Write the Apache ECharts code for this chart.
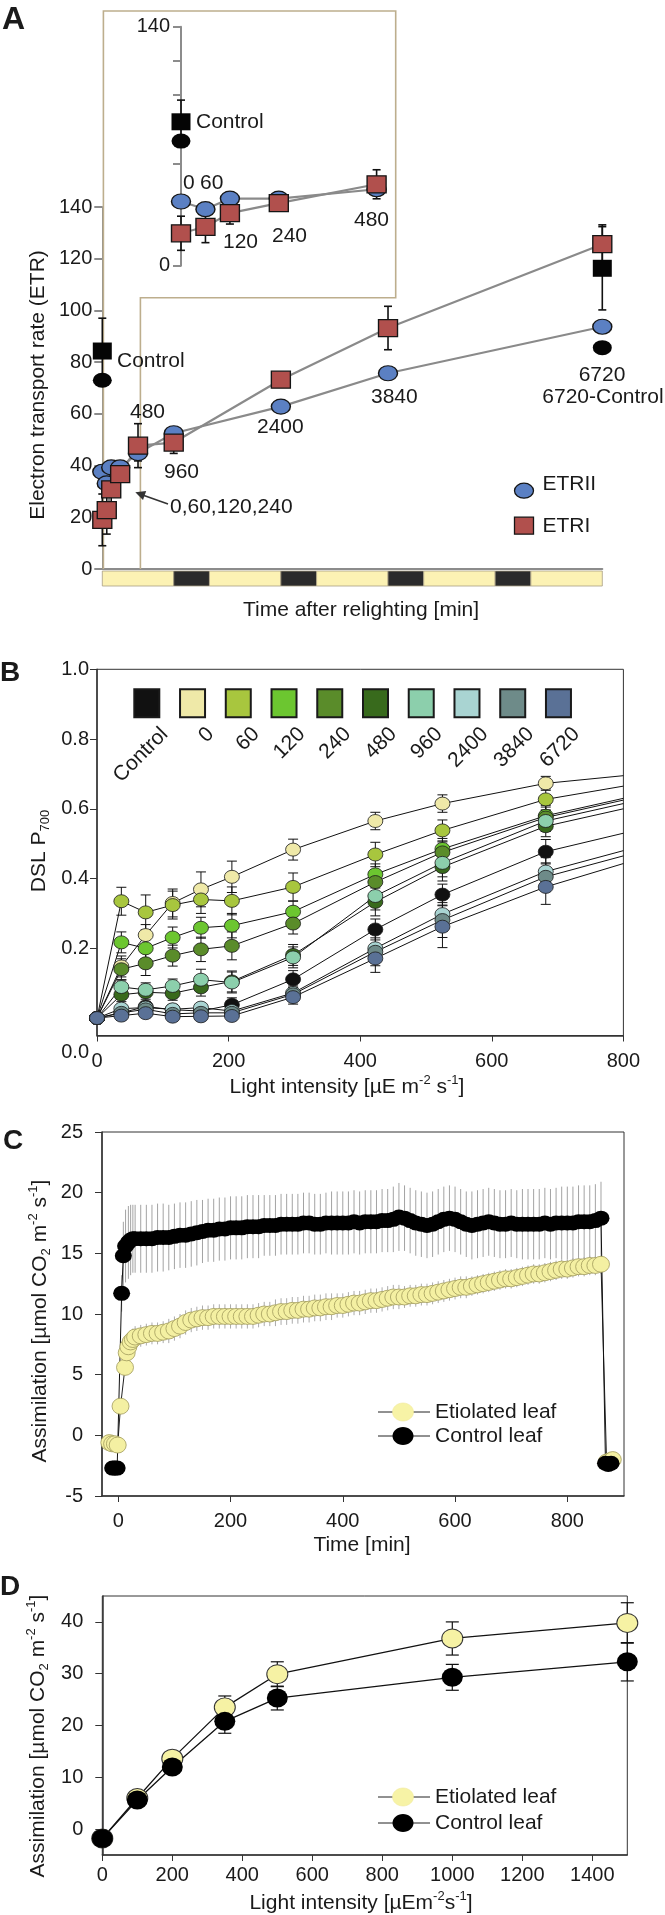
<!DOCTYPE html>
<html><head><meta charset="utf-8">
<script src="https://cdn.jsdelivr.net/npm/echarts@6/dist/echarts.min.js"></script>
<style>html,body{margin:0;padding:0;background:#fff}#c{width:665px;height:1915px}</style>
</head><body><div id="c"></div>
<script>
// ---------------- Panel A data ----------------
const aTimes = [0, 60, 120, 240, 480, 960, 2400, 3840, 6720];
const aETRII = [37.6, 33.1, 39.3, 39.3, 44.8, 52.5, 62.8, 75.7, 93.7];
const aETRIIErr = [1.5, 1.5, 1.5, 1.5, 3, 1.5, 1.5, 1.5, 1.5];
const aETRI = [19.0, 22.8, 30.8, 36.7, 47.7, 48.9, 73.2, 93.2, 125.6];
const aETRIErr = [10, 9.3, 6.4, 2, 8.5, 4.2, 2, 8.4, 7.5];
const aControlTimes = [0, 6720];
const aControlETRII = [73.0, 85.6];
const aControlETRI = [84.3, 116.3];
const aControlETRIErr = [12.7, 16.1];
const aInsetCount = 5; // points 0..480 min shown in the inset
const aPeriodStart = [0, 960, 1440, 2400, 2880, 3840, 4320, 5280, 5760];
const aPeriodEnd   = [960, 1440, 2400, 2880, 3840, 4320, 5280, 5760, 6720];
const aPeriodDark  = [0, 1, 0, 1, 0, 1, 0, 1, 0];

// ---------------- Panel B data ----------------
const bLight = [0, 37, 74, 115, 158, 205, 298, 423, 525, 682];
const bCurveEndX = 800;
const bGroups = ['Control', '0', '60', '120', '240', '480', '960', '2400', '3840', '6720'];
const bColors = ['#111111', '#efe9a8', '#a8c63e', '#6cc630', '#5a8c2a', '#386a1c', '#8ccfac', '#a9d4d2', '#6e8b89', '#5a7196'];
const bControl = [0.0, 0.015, 0.033, 0.024, 0.02, 0.038, 0.111, 0.254, 0.354, 0.477];
const bT0    = [0.0, 0.148, 0.238, 0.33, 0.369, 0.405, 0.483, 0.565, 0.615, 0.673];
const bT60   = [0.0, 0.335, 0.303, 0.324, 0.34, 0.336, 0.376, 0.469, 0.538, 0.627];
const bT120  = [0.0, 0.217, 0.2, 0.231, 0.259, 0.265, 0.305, 0.412, 0.485, 0.58];
const bT240  = [0.0, 0.14, 0.157, 0.179, 0.197, 0.207, 0.271, 0.39, 0.475, 0.575];
const bT480  = [0.0, 0.067, 0.074, 0.071, 0.088, 0.105, 0.181, 0.333, 0.433, 0.55];
const bT960  = [0.0, 0.089, 0.081, 0.092, 0.11, 0.102, 0.174, 0.35, 0.445, 0.565];
const bT2400 = [0.0, 0.027, 0.03, 0.025, 0.03, 0.02, 0.072, 0.2, 0.298, 0.42];
const bT3840 = [0.0, 0.015, 0.025, 0.012, 0.015, 0.015, 0.068, 0.19, 0.281, 0.405];
const bT6720 = [0.0, 0.007, 0.014, 0.004, 0.005, 0.006, 0.06, 0.171, 0.262, 0.376];
const bCurveEnd = [0.53, 0.695, 0.665, 0.63, 0.625, 0.60, 0.615, 0.48, 0.465, 0.443];
const bErrControl = [0, 0.01, 0.015, 0.015, 0.01, 0.02, 0.025, 0.03, 0.03, 0.035];
const bErrT0    = [0, 0.03, 0.03, 0.04, 0.05, 0.045, 0.03, 0.025, 0.025, 0.02];
const bErrT60   = [0, 0.04, 0.05, 0.04, 0.04, 0.04, 0.04, 0.035, 0.03, 0.03];
const bErrT120  = [0, 0.03, 0.03, 0.03, 0.03, 0.035, 0.03, 0.03, 0.03, 0.03];
const bErrT240  = [0, 0.03, 0.035, 0.03, 0.035, 0.04, 0.03, 0.03, 0.03, 0.03];
const bErrT480  = [0, 0.02, 0.02, 0.02, 0.025, 0.03, 0.03, 0.04, 0.04, 0.03];
const bErrT960  = [0, 0.02, 0.02, 0.02, 0.03, 0.03, 0.03, 0.04, 0.04, 0.03];
const bErrT2400 = [0, 0.01, 0.01, 0.01, 0.01, 0.01, 0.02, 0.04, 0.05, 0.04];
const bErrT3840 = [0, 0.01, 0.01, 0.01, 0.01, 0.01, 0.02, 0.04, 0.05, 0.04];
const bErrT6720 = [0, 0.01, 0.01, 0.01, 0.01, 0.01, 0.02, 0.04, 0.06, 0.05];

// ---------------- Panel C data ----------------
const cTimes = [30,40,50,60,70,80,90,100,110,120,
  130,140,150,160,170,180,190,200,210,220,
  230,240,250,260,270,280,290,300,310,320,
  330,340,350,360,370,380,390,400,410,420,
  430,440,450,460,470,480,490,500,510,520,
  530,540,550,560,570,580,590,600,610,620,
  630,640,650,660,670,680,690,700,710,720,
  730,740,750,760,770,780,790,800,810,820,
  830,840,850,860];
const cControl = [16.2,16.2,16.2,16.2,16.3,16.3,16.3,16.4,16.5,16.5,
  16.6,16.7,16.8,16.9,16.9,17.0,17.0,17.1,17.1,17.1,
  17.2,17.2,17.2,17.3,17.3,17.3,17.4,17.4,17.4,17.4,
  17.5,17.5,17.4,17.4,17.5,17.5,17.5,17.5,17.5,17.6,
  17.5,17.6,17.6,17.6,17.7,17.7,17.8,18.0,17.9,17.7,
  17.5,17.4,17.3,17.4,17.6,17.8,17.9,17.8,17.6,17.4,
  17.3,17.4,17.5,17.6,17.5,17.4,17.4,17.5,17.4,17.4,
  17.4,17.4,17.4,17.5,17.4,17.5,17.5,17.5,17.5,17.6,
  17.6,17.6,17.7,17.9];
const cControlErr = [2.8,2.8,2.8,2.8,2.8,2.8,2.7,2.7,2.7,2.7,
  2.7,2.7,2.6,2.6,2.6,2.6,2.6,2.6,2.6,2.6,
  2.6,2.6,2.6,2.5,2.5,2.5,2.5,2.5,2.5,2.5,
  2.5,2.5,2.5,2.5,2.5,2.6,2.6,2.6,2.6,2.6,
  2.6,2.6,2.6,2.6,2.6,2.6,2.7,2.8,2.7,2.7,
  2.7,2.7,2.7,2.7,2.7,2.7,2.7,2.7,2.7,2.7,
  2.8,2.8,2.8,2.8,2.8,2.8,2.8,2.8,2.8,2.9,
  2.9,2.9,2.9,2.9,2.9,2.9,3.0,3.0,3.0,3.0,
  3.0,3.0,3.0,3.0];
const cEtio = [8.1,8.2,8.3,8.4,8.4,8.5,8.6,8.8,9.0,9.3,
  9.5,9.6,9.7,9.7,9.8,9.8,9.8,9.8,9.8,9.8,
  9.8,9.8,9.9,10.0,10.0,10.1,10.2,10.2,10.3,10.3,
  10.4,10.4,10.5,10.5,10.6,10.6,10.7,10.7,10.8,10.9,
  10.9,11.0,11.1,11.1,11.2,11.3,11.4,11.4,11.4,11.5,
  11.5,11.6,11.6,11.7,11.8,11.9,12.0,12.1,12.2,12.2,
  12.3,12.4,12.5,12.6,12.7,12.8,12.9,12.9,13.0,13.1,
  13.2,13.3,13.3,13.4,13.5,13.6,13.7,13.7,13.8,13.9,
  13.9,14.0,14.0,14.1];
const cEtioErr = [0.9,0.9,0.9,0.9,0.9,0.9,1.0,1.0,1.0,1.0,
  1.0,1.0,1.0,1.0,1.0,1.0,1.0,1.0,1.0,1.0,
  1.0,1.0,1.0,1.0,1.0,1.1,1.1,1.1,1.1,1.1,
  1.1,1.1,1.1,1.1,1.1,1.1,1.0,1.0,1.0,1.0,
  1.0,1.0,1.0,1.0,1.0,1.0,1.0,1.0,0.9,0.9,
  0.9,0.9,0.9,0.9,0.9,0.9,0.9,0.9,0.9,0.9,
  0.8,0.8,0.8,0.8,0.8,0.8,0.8,0.8,0.8,0.8,
  0.8,0.8,0.8,0.8,0.8,0.8,0.8,0.8,0.8,0.8,
  0.8,0.8,0.8,0.8];
// [time, value, error] around the light-on / light-off transitions
const cControlPre  = [[-10,-2.7,0.3],[-6,-2.7,0.3],[-2,-2.7,0.3],[6,11.7,1.5],[9,14.8,2.8],[13,15.6,3.0],[18,15.9,3.0],[22,16.1,2.9],[26,16.2,2.8]];
const cControlPost = [[868,-2.3,0.4],[873,-2.4,0.4],[878,-2.3,0.4]];
const cEtioPre  = [[-16,-0.6,0.3],[-11,-0.7,0.3],[-6,-0.7,0.3],[-1,-0.8,0.3],[4,2.4,0.5],[12,5.6,0.6],[15,6.8,0.7],[18,7.3,0.8],[22,7.7,0.8],[26,7.9,0.9]];
const cEtioPost = [[870,-2.2,0.3],[876,-2.1,0.3],[881,-2.0,0.3]];

// ---------------- Panel D data ----------------
const dLight = [0, 100, 200, 350, 500, 1000, 1500];
const dEtio = [-1.8, 6.0, 13.6, 23.5, 29.9, 36.8, 39.8];
const dEtioErr = [0.5, 0.8, 1.2, 2.2, 2.4, 3.2, 3.9];
const dControl = [-1.8, 5.6, 12.0, 20.8, 25.3, 29.3, 32.3];
const dControlErr = [0.5, 0.8, 1.2, 2.3, 2.3, 2.5, 3.7];

// ---------------- helpers ----------------
const FONT = "'Liberation Sans', Arial, Helvetica, sans-serif";
const TXT = '#1a1a1a';
const pairs = (xs, ys) => xs.map((x, i) => [x, ys[i]]);
const triples = (xs, ys, es) => xs.map((x, i) => [x, ys[i], es[i]]);

function errSeries(idx, data, cap, color, width) {
  return {
    type: 'custom', xAxisIndex: idx, yAxisIndex: idx, data: data, clip: false, silent: true,
    encode: { x: 0, y: 1 },
    renderItem: function (params, api) {
      const x = api.value(0), y = api.value(1), e = api.value(2);
      const t = api.coord([x, y + e]), b = api.coord([x, y - e]);
      const st = { stroke: color, lineWidth: width };
      const ch = [{ type: 'line', shape: { x1: t[0], y1: t[1], x2: b[0], y2: b[1] }, style: st }];
      if (cap) {
        const h = cap / 2;
        ch.push({ type: 'line', shape: { x1: t[0] - h, y1: t[1], x2: t[0] + h, y2: t[1] }, style: st });
        ch.push({ type: 'line', shape: { x1: b[0] - h, y1: b[1], x2: b[0] + h, y2: b[1] }, style: st });
      }
      return { type: 'group', children: ch };
    }
  };
}
function labelStyle(extra) {
  return Object.assign({ fontSize: 20, fontFamily: FONT, color: TXT }, extra || {});
}
const rich = {
  n: { fontSize: 21, fontFamily: FONT, fill: TXT, lineHeight: 26 },
  sup: { fontSize: 13, fontFamily: FONT, fill: TXT, lineHeight: 14, verticalAlign: 'top' },
  sub: { fontSize: 13, fontFamily: FONT, fill: TXT, lineHeight: 14, verticalAlign: 'bottom' }
};
function txt(x, y, s, o) {
  o = o || {};
  return {
    type: 'text', x: x, y: y, z: 100, rotation: o.rot || 0,
    style: {
      text: s, fill: TXT, fontSize: o.size || 21, fontFamily: FONT, fontWeight: o.weight || 'normal',
      align: o.align || 'left', verticalAlign: o.va || 'middle', rich: o.rich ? rich : undefined
    }
  };
}

// ---------------- series ----------------
const series = [];
const GREYLINE = '#8a8a8a';
const BLUE = '#5b80c3', RED = '#b1504d', DARK = '#151515';

// Panel A main: light/dark bar
series.push({
  type: 'custom', xAxisIndex: 0, yAxisIndex: 0, clip: false, silent: true,
  data: aPeriodStart.map((s, i) => [s, aPeriodEnd[i], aPeriodDark[i]]),
  encode: { x: [0, 1] },
  renderItem: function (params, api) {
    const s = api.coord([api.value(0), 0]), e = api.coord([api.value(1), 0]);
    return { type: 'rect', shape: { x: s[0], y: s[1] + 2, width: e[0] - s[0], height: 15 },
      style: { fill: api.value(2) ? '#2b2b2b' : '#fcf2b4', stroke: '#a89e84', lineWidth: 0.8 } };
  }
});
function panelAPoints(idx, n) {
  const ctl = idx === 0 ? 2 : 1;
  series.push(errSeries(idx, triples(aControlTimes.slice(0, ctl), aControlETRI.slice(0, ctl), aControlETRIErr.slice(0, ctl)), 8, '#111', 1.6));
  series.push({ type: 'scatter', xAxisIndex: idx, yAxisIndex: idx, clip: false,
    data: pairs(aControlTimes.slice(0, ctl), aControlETRII.slice(0, ctl)),
    symbol: 'circle', symbolSize: [19, 15], itemStyle: { color: '#050505', opacity: 1 } });
  series.push({ type: 'scatter', xAxisIndex: idx, yAxisIndex: idx, clip: false,
    data: pairs(aControlTimes.slice(0, ctl), aControlETRI.slice(0, ctl)),
    symbol: 'rect', symbolSize: [19, 17], itemStyle: { color: '#050505', opacity: 1 } });
  series.push(errSeries(idx, triples(aTimes.slice(0, n), aETRII.slice(0, n), aETRIIErr.slice(0, n)), 8, '#111', 1.6));
  series.push({ type: 'line', xAxisIndex: idx, yAxisIndex: idx, clip: false,
    data: pairs(aTimes.slice(0, n), aETRII.slice(0, n)), symbol: 'circle', symbolSize: [19, 15],
    lineStyle: { color: GREYLINE, width: 2.2 }, itemStyle: { color: BLUE, borderColor: DARK, borderWidth: 1.3 } });
  series.push(errSeries(idx, triples(aTimes.slice(0, n), aETRI.slice(0, n), aETRIErr.slice(0, n)), 8, '#111', 1.6));
  series.push({ type: 'line', xAxisIndex: idx, yAxisIndex: idx, clip: false,
    data: pairs(aTimes.slice(0, n), aETRI.slice(0, n)), symbol: 'rect', symbolSize: [19, 17],
    lineStyle: { color: GREYLINE, width: 2.2 }, itemStyle: { color: RED, borderColor: DARK, borderWidth: 1.3 } });
}
panelAPoints(0, aTimes.length);
panelAPoints(1, aInsetCount);

// Panel B
const bValues = [bControl, bT0, bT60, bT120, bT240, bT480, bT960, bT2400, bT3840, bT6720];
const bErrs = [bErrControl, bErrT0, bErrT60, bErrT120, bErrT240, bErrT480, bErrT960, bErrT2400, bErrT3840, bErrT6720];
bValues.forEach((vals, g) => {
  series.push(errSeries(2, triples(bLight, vals, bErrs[g]), 10, '#111', 1));
});
bValues.forEach((vals, g) => {
  const d = pairs(bLight, vals);
  d.push({ value: [bCurveEndX, bCurveEnd[g]], symbol: 'none' });
  series.push({ type: 'line', name: bGroups[g], xAxisIndex: 2, yAxisIndex: 2, clip: false, data: d,
    symbol: 'circle', symbolSize: [15, 13], lineStyle: { color: '#111', width: 1 },
    itemStyle: { color: bColors[g], borderColor: '#1a1a1a', borderWidth: 0.8 } });
});

// Panel C
const cControlAll = cControlPre.concat(triples(cTimes, cControl, cControlErr), cControlPost);
const cEtioAll = cEtioPre.concat(triples(cTimes, cEtio, cEtioErr), cEtioPost);
series.push(errSeries(3, cControlAll, 0, '#a3a3a3', 1));
series.push(errSeries(3, cEtioAll, 0, '#ababab', 1));
series.push({ type: 'line', xAxisIndex: 3, yAxisIndex: 3, clip: false,
  data: cEtioAll.map(p => [p[0], p[1]]), symbol: 'circle', symbolSize: [17, 16],
  lineStyle: { color: '#222', width: 1 }, itemStyle: { color: '#f4f0a2', borderColor: '#a19a5c', borderWidth: 0.8 } });
series.push({ type: 'line', xAxisIndex: 3, yAxisIndex: 3, clip: false,
  data: cControlAll.map(p => [p[0], p[1]]), symbol: 'circle', symbolSize: [17, 15],
  lineStyle: { color: '#111', width: 1 }, itemStyle: { color: '#000' } });

// Panel D
series.push(errSeries(4, triples(dLight, dEtio, dEtioErr), 13, '#111', 1.2));
series.push(errSeries(4, triples(dLight, dControl, dControlErr), 13, '#111', 1.2));
series.push({ type: 'line', xAxisIndex: 4, yAxisIndex: 4, clip: false, data: pairs(dLight, dEtio),
  symbol: 'circle', symbolSize: [21, 19], lineStyle: { color: '#111', width: 1.3 },
  itemStyle: { color: '#f6f2a4', borderColor: '#333', borderWidth: 1 } });
series.push({ type: 'line', xAxisIndex: 4, yAxisIndex: 4, clip: false, data: pairs(dLight, dControl),
  symbol: 'circle', symbolSize: [21, 19], lineStyle: { color: '#111', width: 1.3 },
  itemStyle: { color: '#000' } });

// ---------------- graphics (text, frame, legends) ----------------
const g = [];
g.push(txt(2, 20, 'A', { size: 32, weight: 'bold' }));
g.push(txt(0, 673, 'B', { size: 28, weight: 'bold' }));
g.push(txt(3, 1141, 'C', { size: 28, weight: 'bold' }));
g.push(txt(0, 1587, 'D', { size: 28, weight: 'bold' }));
g.push({ type: 'polyline', z: 1, silent: true,
  shape: { points: [[103.4, 569], [103.4, 11], [395.7, 11], [395.7, 297.7], [140.4, 297.7], [140.4, 569]] },
  style: { stroke: '#bdae8d', lineWidth: 1.6, fill: null } });
g.push(txt(117, 361, 'Control'));
g.push(txt(130, 412, '480'));
g.push(txt(164, 472, '960'));
g.push(txt(257, 427, '2400'));
g.push(txt(371, 397, '3840'));
g.push(txt(602, 375, '6720', { align: 'center' }));
g.push(txt(603, 397, '6720-Control', { align: 'center' }));
g.push(txt(170, 507, '0,60,120,240'));
g.push({ type: 'line', z: 100, shape: { x1: 168, y1: 504, x2: 144, y2: 495.4 }, style: { stroke: '#333', lineWidth: 1.6 } });
g.push({ type: 'polygon', z: 100, shape: { points: [[135.3, 492.3], [146.2, 491.0], [143.0, 500.0]] }, style: { fill: '#333' } });
g.push(txt(196, 122, 'Control'));
g.push(txt(183, 183, '0'));
g.push(txt(200, 183, '60'));
g.push(txt(223, 242, '120'));
g.push(txt(272, 236, '240'));
g.push(txt(354, 220, '480'));
g.push({ type: 'ellipse', z: 100, shape: { cx: 524, cy: 490.7, rx: 9.5, ry: 7.5 }, style: { fill: BLUE, stroke: DARK, lineWidth: 1.3 } });
g.push({ type: 'rect', z: 100, shape: { x: 514.5, y: 517.2, width: 19, height: 17 }, style: { fill: RED, stroke: DARK, lineWidth: 1.3 } });
g.push(txt(542.5, 484, 'ETRII'));
g.push(txt(542.5, 526, 'ETRI'));
g.push(txt(361, 610, 'Time after relighting [min]', { align: 'center' }));
g.push(txt(38, 385, 'Electron transport rate (ETR)', { align: 'center', rot: Math.PI / 2 }));
bGroups.forEach((name, i) => {
  const cx = 146.8 + i * 45.74;
  g.push({ type: 'rect', z: 100, shape: { x: cx - 12.5, y: 689.3, width: 25, height: 28 },
    style: { fill: bColors[i], stroke: '#1a1a1a', lineWidth: 2 } });
  g.push(txt(cx + 18, 731, name, { align: 'right', rot: Math.PI / 4 }));
});
g.push(txt(89, 1052, '0.0', { size: 20, align: 'right' }));
g.push(txt(347, 1087, '{n|Light intensity [µE m}{sup|-2}{n| s}{sup|-1}{n|]}', { align: 'center', rich: true }));
g.push(txt(39, 851, '{n|DSL P}{sub|700}', { align: 'center', rot: Math.PI / 2, rich: true }));
g.push(txt(362, 1545, 'Time [min]', { align: 'center' }));
g.push(txt(40, 1321, '{n|Assimilation [µmol CO}{sub|2}{n| m}{sup|-2}{n| s}{sup|-1}{n|]}', { align: 'center', rot: Math.PI / 2, rich: true }));
function legendPair(y1, y2) {
  g.push({ type: 'line', z: 100, shape: { x1: 378, y1: y1, x2: 430, y2: y1 }, style: { stroke: '#222', lineWidth: 1 } });
  g.push({ type: 'ellipse', z: 101, shape: { cx: 403, cy: y1, rx: 10.5, ry: 9 }, style: { fill: '#f7f3a6', stroke: '#f0ea9a', lineWidth: 0.6 } });
  g.push(txt(435, y1, 'Etiolated leaf'));
  g.push({ type: 'line', z: 100, shape: { x1: 378, y1: y2, x2: 430, y2: y2 }, style: { stroke: '#222', lineWidth: 1 } });
  g.push({ type: 'ellipse', z: 101, shape: { cx: 403, cy: y2, rx: 10.5, ry: 9 }, style: { fill: '#000' } });
  g.push(txt(435, y2, 'Control leaf'));
}
legendPair(1412, 1436);
g.push(txt(361, 1903, '{n|Light intensity [µEm}{sup|-2}{n|s}{sup|-1}{n|]}', { align: 'center', rich: true }));
g.push(txt(38, 1736, '{n|Assimilation [µmol CO}{sub|2}{n| m}{sup|-2}{n| s}{sup|-1}{n|]}', { align: 'center', rot: Math.PI / 2, rich: true }));
legendPair(1797, 1823);

// ---------------- axes ----------------
const AX = '#333';
const plain = v => String(v);
const option = {
  animation: false,
  backgroundColor: '#fff',
  grid: [
    { left: 102.3, top: 207, width: 500, height: 362 },
    { left: 181, top: 26.7, width: 195.6, height: 239 },
    { left: 97, top: 669.3, width: 526.4, height: 366.2, show: true, borderColor: AX, borderWidth: 1 },
    { left: 102, top: 1132, width: 522, height: 364, show: true, borderColor: AX, borderWidth: 1 },
    { left: 102.3, top: 1596, width: 525, height: 259, show: true, borderColor: AX, borderWidth: 1 }
  ],
  xAxis: [
    { gridIndex: 0, type: 'value', min: 0, max: 6720, axisLine: { onZero: false, lineStyle: { color: '#8c8c8c', width: 2 } },
      axisTick: { show: false }, axisLabel: { show: false }, splitLine: { show: false } },
    { gridIndex: 1, type: 'value', min: 0, max: 480, show: false, axisLine: { onZero: false }, splitLine: { show: false } },
    { gridIndex: 2, type: 'value', min: 0, max: 800, interval: 200,
      axisLine: { onZero: false, lineStyle: { color: AX, width: 1.5 } }, axisTick: { length: 6, lineStyle: { color: AX } },
      axisLabel: labelStyle({ margin: 16, formatter: plain }), splitLine: { show: false } },
    { gridIndex: 3, type: 'value', min: -29, max: 901,
      axisLine: { onZero: false, lineStyle: { color: AX, width: 1.5 } },
      axisTick: { length: 6, lineStyle: { color: AX }, customValues: [0, 200, 400, 600, 800] },
      axisLabel: labelStyle({ margin: 15, formatter: plain, customValues: [0, 200, 400, 600, 800] }), splitLine: { show: false } },
    { gridIndex: 4, type: 'value', min: 0, max: 1500,
      axisLine: { onZero: false, lineStyle: { color: AX, width: 1.5 } },
      axisTick: { length: 6, lineStyle: { color: AX }, customValues: [0, 200, 400, 600, 800, 1000, 1200, 1400] },
      axisLabel: labelStyle({ margin: 10, formatter: plain, customValues: [0, 200, 400, 600, 800, 1000, 1200, 1400] }), splitLine: { show: false } }
  ],
  yAxis: [
    { gridIndex: 0, type: 'value', min: 0, max: 140, interval: 20,
      axisLine: { show: true, onZero: false, lineStyle: { color: '#8c8c8c', width: 2 } },
      axisTick: { show: true, length: 8, lineStyle: { color: '#8c8c8c', width: 2 } },
      axisLabel: labelStyle({ margin: 10, formatter: plain }), splitLine: { show: false } },
    { gridIndex: 1, type: 'value', min: 0, max: 140, interval: 20,
      axisLine: { show: true, onZero: false, lineStyle: { color: '#8c8c8c', width: 2 } },
      axisTick: { show: true, length: 8, lineStyle: { color: '#8c8c8c', width: 2 } },
      axisLabel: labelStyle({ margin: 11, formatter: v => (v === 0 || v === 140) ? String(v) : '' }), splitLine: { show: false } },
    { gridIndex: 2, type: 'value', min: -0.05, max: 1.0,
      axisLine: { show: true, onZero: false, lineStyle: { color: AX, width: 1.5 } },
      axisTick: { show: true, length: 7, lineStyle: { color: AX }, customValues: [0.2, 0.4, 0.6, 0.8, 1.0] },
      axisLabel: labelStyle({ margin: 8, padding: [10, 0, 0, 0], customValues: [0.2, 0.4, 0.6, 0.8, 1.0], formatter: v => v.toFixed(1) }),
      splitLine: { show: false } },
    { gridIndex: 3, type: 'value', min: -5, max: 25, interval: 5,
      axisLine: { show: true, onZero: false, lineStyle: { color: AX, width: 1.5 } },
      axisTick: { show: true, length: 7, lineStyle: { color: AX } },
      axisLabel: labelStyle({ margin: 19, padding: [20, 0, 0, 0], formatter: plain }), splitLine: { show: false } },
    { gridIndex: 4, type: 'value', min: -5, max: 45,
      axisLine: { show: true, onZero: false, lineStyle: { color: AX, width: 1.5 } },
      axisTick: { show: true, length: 7, lineStyle: { color: AX }, customValues: [0, 10, 20, 30, 40] },
      axisLabel: labelStyle({ margin: 19, formatter: plain, customValues: [0, 10, 20, 30, 40] }), splitLine: { show: false } }
  ],
  series: series,
  graphic: { elements: g }
};
const chart = echarts.init(document.getElementById('c'), null, { renderer: 'canvas' });
chart.setOption(option);
</script>
</body></html>
